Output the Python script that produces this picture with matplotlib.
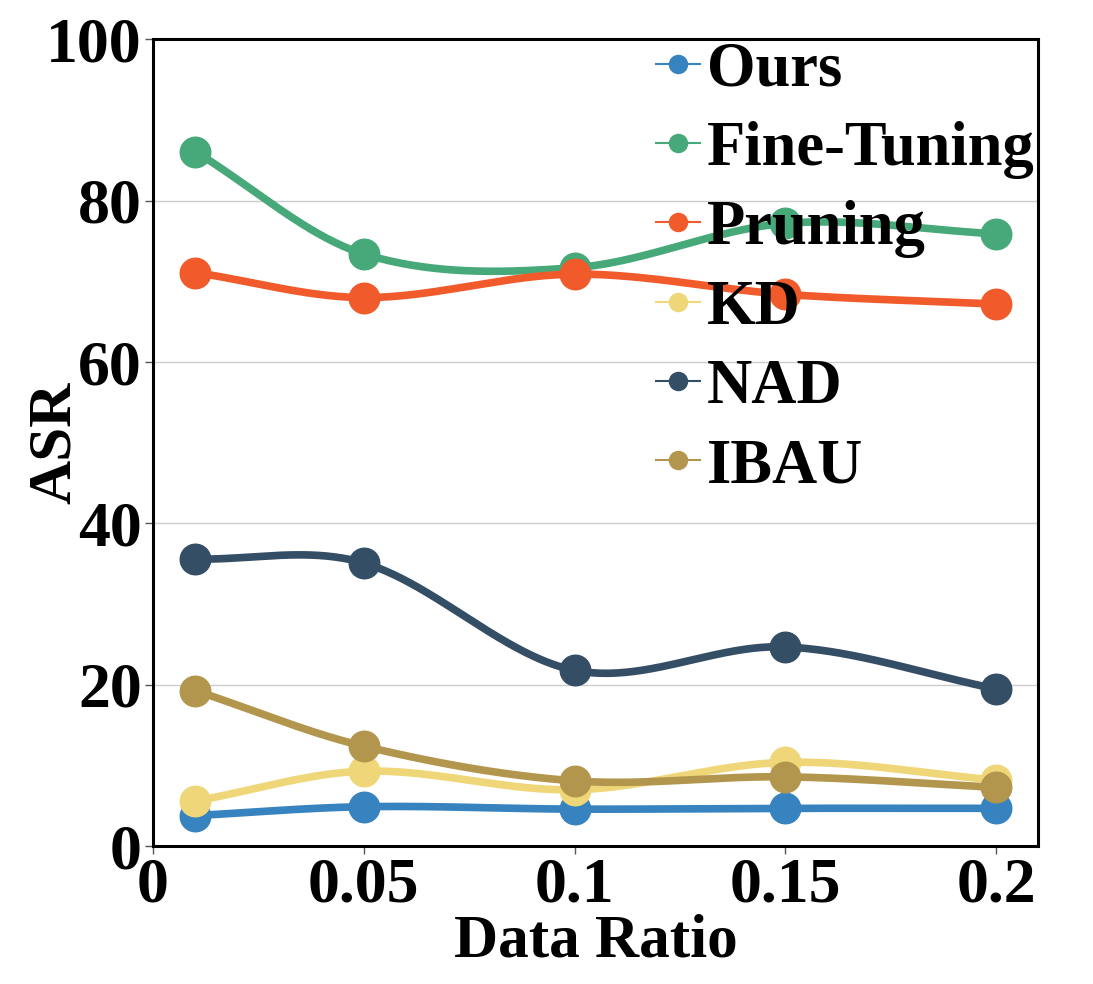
import numpy as np
import matplotlib
matplotlib.use('Agg')
import matplotlib.pyplot as plt
from matplotlib.lines import Line2D

plt.rcParams['font.family'] = ['Liberation Serif', 'DejaVu Serif']
plt.rcParams['font.weight'] = 'bold'

ratios = [0.01, 0.05, 0.1, 0.15, 0.2]
methods = ['Ours', 'Fine-Tuning', 'Pruning', 'KD', 'NAD', 'IBAU']
ours = [3.8, 4.9, 4.6, 4.7, 4.7]
fine_tuning = [86.1, 73.4, 71.7, 77.2, 75.9]
pruning = [71.1, 68.0, 70.9, 68.4, 67.2]
kd = [5.6, 9.3, 7.0, 10.4, 8.2]
nad = [35.6, 35.1, 21.8, 24.7, 19.5]
ibau = [19.3, 12.4, 8.1, 8.6, 7.3]
colors = ['#3783bf', '#47a97a', '#f15a2a', '#efd779', '#344e66', '#b3964e']


# cubic hermite with finite-difference tangents, only for the smooth line
def smooth(x, y, num=300):
    x = np.asarray(x, float)
    y = np.asarray(y, float)
    n = len(x)
    m = np.zeros(n)
    m[0] = (y[1] - y[0]) / (x[1] - x[0])
    m[-1] = (y[-1] - y[-2]) / (x[-1] - x[-2])
    for i in range(1, n - 1):
        m[i] = (y[i + 1] - y[i - 1]) / (x[i + 1] - x[i - 1])
    xs = np.linspace(x[0], x[-1], num)
    k = np.clip(np.searchsorted(x, xs) - 1, 0, n - 2)
    h = x[k + 1] - x[k]
    t = (xs - x[k]) / h
    h00 = 2 * t ** 3 - 3 * t ** 2 + 1
    h10 = t ** 3 - 2 * t ** 2 + t
    h01 = -2 * t ** 3 + 3 * t ** 2
    h11 = t ** 3 - t ** 2
    ys = h00 * y[k] + h10 * h * m[k] + h01 * y[k + 1] + h11 * h * m[k + 1]
    return xs, ys


fig = plt.figure(figsize=(10.93, 9.84), dpi=100)
ax = fig.add_axes([0.140, 0.140, 0.810, 0.820])

series = [ours, fine_tuning, pruning, kd, nad, ibau]
handles = []
for name, vals, c in zip(methods, series, colors):
    xs, ys = smooth(ratios, vals)
    ax.plot(xs, ys, color=c, lw=5.5, solid_capstyle='round', zorder=3)
    ax.plot(ratios, vals, 'o', color=c, ms=22, zorder=4)
    handles.append(Line2D([0], [0], color=c, lw=1.5, marker='o', ms=13, label=name))

ax.set_xlim(0, 0.21)
ax.set_ylim(0, 100)
ax.set_xticks([0, 0.05, 0.1, 0.15, 0.2])
ax.set_xticklabels(['0', '0.05', '0.1', '0.15', '0.2'])
ax.set_yticks([0, 20, 40, 60, 80, 100])
ax.yaxis.grid(True, color='#cccccc', lw=1)
ax.set_axisbelow(True)
for s in ax.spines.values():
    s.set_linewidth(2.2)
ax.tick_params(labelsize=46, width=1, length=6, color='#555555', pad=2)
for lab in ax.get_xticklabels() + ax.get_yticklabels():
    lab.set_fontweight('bold')

ax.set_xlabel('Data Ratio', fontsize=44, fontweight='bold', labelpad=-1)
ax.set_ylabel('ASR', fontsize=44, fontweight='bold', labelpad=-26)

ax.legend(handles=handles, loc='upper left', bbox_to_anchor=(0.568, 0.997),
          frameon=False, prop={'size': 45, 'weight': 'bold'},
          handlelength=0.7, handletextpad=0.12, labelspacing=0.34,
          borderaxespad=0, borderpad=0)

fig.savefig('out.png', dpi=100)
